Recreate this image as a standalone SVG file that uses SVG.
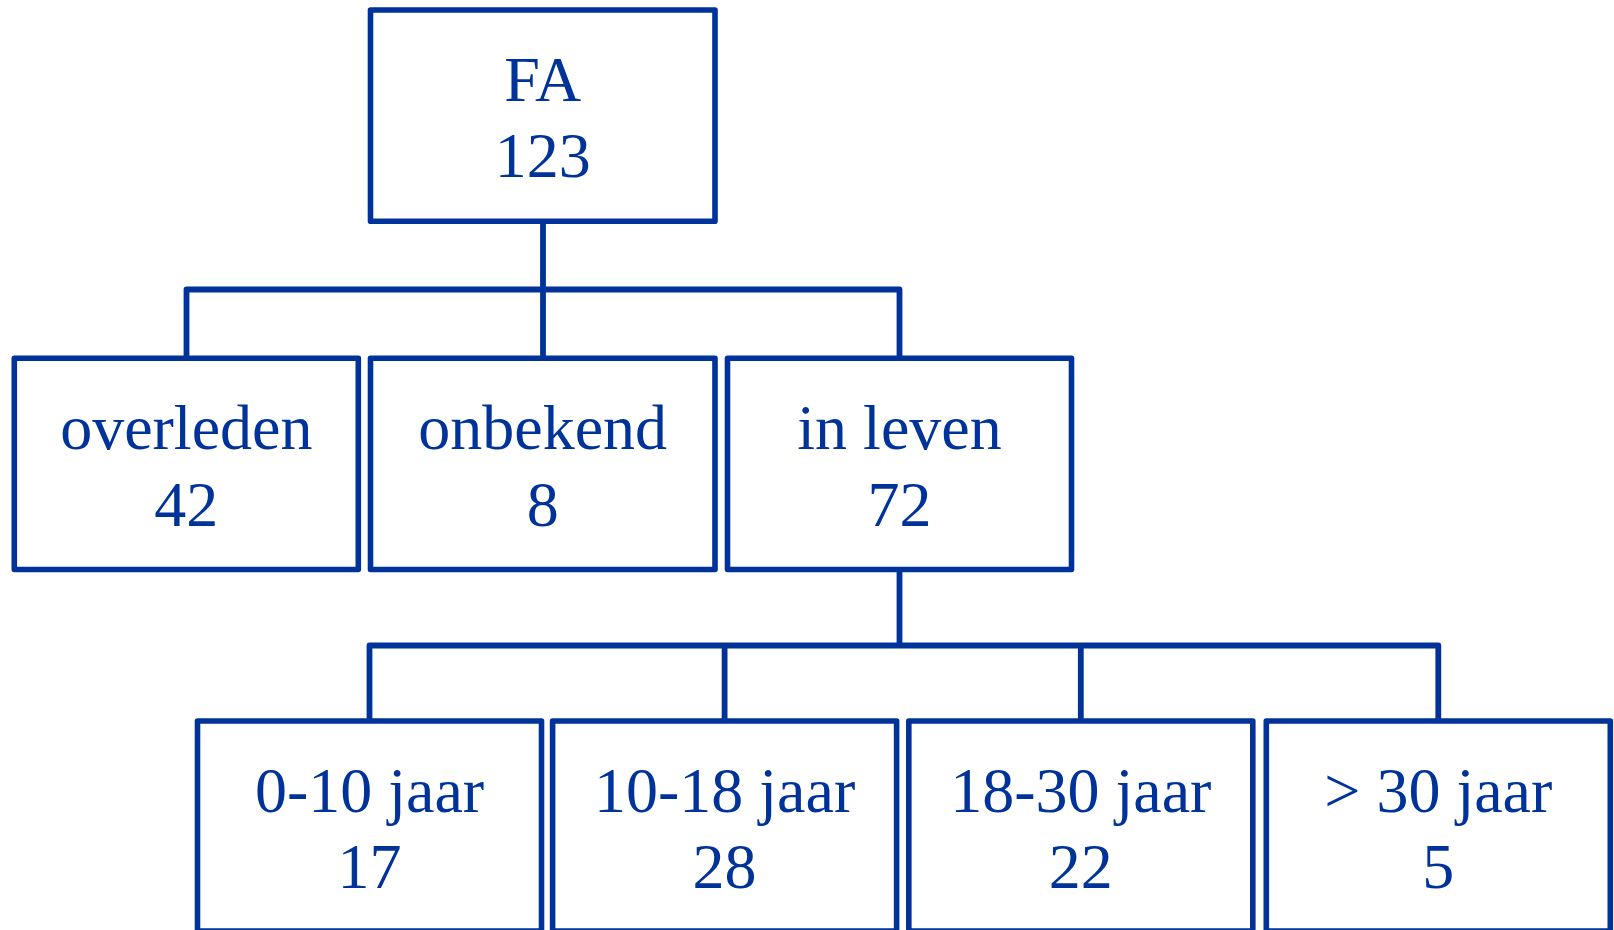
<svg xmlns="http://www.w3.org/2000/svg" width="1614" height="930" viewBox="0 0 1614 930">
<style>
.box{fill:#fff;stroke:#003399;stroke-width:5.6;stroke-linejoin:round}
.con{fill:none;stroke:#003399;stroke-width:5.8;stroke-linejoin:round}
text{font-family:"Liberation Serif","Times New Roman",serif;font-size:64px;fill:#003399;text-anchor:middle}
</style>
<rect width="1614" height="930" fill="#fff"/>
<g id="connectors">
<path class="con" d="M543 221 V289.5 M186.5 358.5 V289.5 H899.5 V358.5 M543 289.5 V358.5"/>
<path class="con" d="M899.5 569 V645.5 M369.5 721 V645.5 H1438.3 V721 M724.6 645.5 V721 M1080.8 645.5 V721"/>
</g>
<g id="n-fa"><rect class="box" x="370.5" y="10" width="344.5" height="211.3"/><text x="542.7" y="101">FA</text><text x="542.7" y="177">123</text></g>
<g id="n-overleden"><rect class="box" x="14.3" y="358.3" width="344" height="211.2"/><text x="186.3" y="448.5">overleden</text><text x="186.3" y="526">42</text></g>
<g id="n-onbekend"><rect class="box" x="370.5" y="358.3" width="344.5" height="211.2"/><text x="542.7" y="448.5">onbekend</text><text x="542.7" y="526">8</text></g>
<g id="n-inleven"><rect class="box" x="727.5" y="358.3" width="344" height="211.2"/><text x="899.5" y="448.5">in leven</text><text x="899.5" y="526">72</text></g>
<g id="n-0-10"><rect class="box" x="197.5" y="721" width="344" height="210"/><text x="369.5" y="811.5">0-10 jaar</text><text x="369.5" y="888">17</text></g>
<g id="n-10-18"><rect class="box" x="552.6" y="721" width="344" height="210"/><text x="724.6" y="811.5">10-18 jaar</text><text x="724.6" y="888">28</text></g>
<g id="n-18-30"><rect class="box" x="908.8" y="721" width="344" height="210"/><text x="1080.8" y="811.5">18-30 jaar</text><text x="1080.8" y="888">22</text></g>
<g id="n-30plus"><rect class="box" x="1266.3" y="721" width="344" height="210"/><text x="1438.3" y="811.5">&gt; 30 jaar</text><text x="1438.3" y="888">5</text></g>
</svg>
